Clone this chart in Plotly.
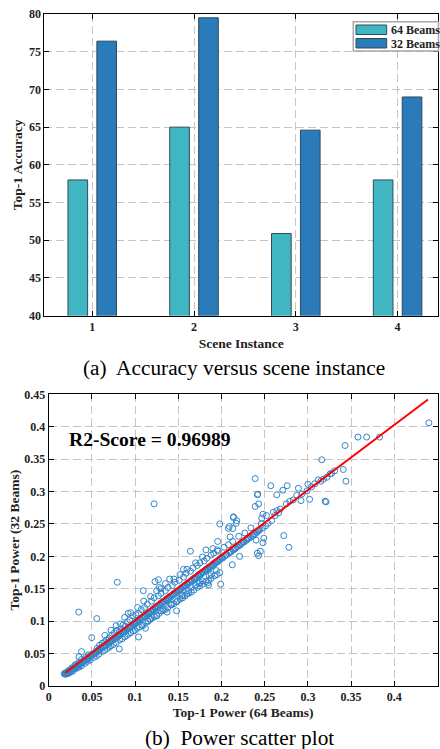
import plotly.graph_objects as go

# ---------------- data: (a) accuracy per scene ----------------
scenes = [1, 2, 3, 4]
acc_64 = [58.0, 65.0, 50.9, 58.0]
acc_32 = [76.4, 79.5, 64.6, 69.0]
series_names = ["64 Beams", "32 Beams"]

# ---------------- data: (b) power scatter ----------------
band1_x = [0.018, 0.019, 0.019, 0.020, 0.021, 0.021, 0.022, 0.023, 0.024, 0.024,
           0.025, 0.026, 0.027, 0.027, 0.028, 0.029, 0.030, 0.031, 0.031, 0.032,
           0.033, 0.034, 0.035, 0.035, 0.036, 0.037, 0.038, 0.039, 0.040, 0.041,
           0.042, 0.043, 0.044, 0.045, 0.046, 0.047, 0.048, 0.050, 0.052, 0.054]
band1_y = [0.019, 0.018, 0.020, 0.019, 0.021, 0.020, 0.021, 0.024, 0.022, 0.023,
           0.024, 0.026, 0.025, 0.028, 0.026, 0.027, 0.031, 0.029, 0.033, 0.030,
           0.031, 0.033, 0.032, 0.036, 0.034, 0.035, 0.041, 0.036, 0.038, 0.039,
           0.040, 0.044, 0.041, 0.042, 0.048, 0.044, 0.046, 0.049, 0.050, 0.052]
band2_x = [0.055, 0.056, 0.057, 0.058, 0.059, 0.060, 0.061, 0.062, 0.063, 0.064,
           0.065, 0.066, 0.067, 0.068, 0.069, 0.070, 0.071, 0.072, 0.073, 0.074,
           0.075, 0.076, 0.077, 0.078, 0.079, 0.080, 0.081, 0.082, 0.083, 0.084,
           0.085, 0.086, 0.087, 0.088, 0.089, 0.090, 0.091, 0.092, 0.093, 0.094,
           0.095, 0.096, 0.097, 0.098, 0.099]
band2_y = [0.053, 0.058, 0.055, 0.056, 0.063, 0.058, 0.059, 0.066, 0.061, 0.062,
           0.068, 0.063, 0.071, 0.066, 0.067, 0.074, 0.068, 0.070, 0.078, 0.071,
           0.073, 0.082, 0.074, 0.076, 0.086, 0.078, 0.079, 0.084, 0.080, 0.088,
           0.082, 0.094, 0.084, 0.086, 0.092, 0.087, 0.099, 0.089, 0.090, 0.102,
           0.092, 0.093, 0.108, 0.095, 0.096]
band3_x = [0.100, 0.101, 0.102, 0.103, 0.104, 0.105, 0.106, 0.107, 0.108, 0.109,
           0.110, 0.111, 0.112, 0.113, 0.114, 0.115, 0.116, 0.117, 0.118, 0.119,
           0.120, 0.121, 0.122, 0.123, 0.124, 0.125, 0.126, 0.127, 0.128, 0.129,
           0.130, 0.131, 0.132, 0.133, 0.134, 0.135, 0.136, 0.137, 0.138, 0.139,
           0.140, 0.141, 0.142, 0.143, 0.144, 0.145, 0.146, 0.147, 0.148, 0.149]
band3_y = [0.097, 0.110, 0.099, 0.101, 0.112, 0.102, 0.104, 0.118, 0.105, 0.093,
           0.107, 0.121, 0.109, 0.111, 0.126, 0.112, 0.114, 0.103, 0.115, 0.131,
           0.117, 0.119, 0.136, 0.120, 0.122, 0.108, 0.124, 0.139, 0.125, 0.127,
           0.143, 0.128, 0.130, 0.118, 0.131, 0.147, 0.133, 0.135, 0.152, 0.136,
           0.138, 0.126, 0.139, 0.155, 0.141, 0.143, 0.160, 0.144, 0.146, 0.131]
band4_x = [0.150, 0.151, 0.152, 0.153, 0.154, 0.155, 0.156, 0.157, 0.158, 0.159,
           0.160, 0.161, 0.162, 0.163, 0.164, 0.165, 0.166, 0.167, 0.168, 0.169,
           0.170, 0.171, 0.172, 0.173, 0.174, 0.175, 0.176, 0.177, 0.178, 0.179,
           0.180, 0.181, 0.182, 0.183, 0.184, 0.185, 0.186, 0.187, 0.188, 0.189,
           0.190, 0.191, 0.192, 0.193, 0.194, 0.195, 0.196, 0.197, 0.198, 0.200]
band4_y = [0.147, 0.163, 0.149, 0.151, 0.139, 0.152, 0.168, 0.154, 0.156, 0.174,
           0.157, 0.159, 0.147, 0.160, 0.177, 0.162, 0.164, 0.182, 0.165, 0.167,
           0.155, 0.168, 0.186, 0.170, 0.172, 0.190, 0.173, 0.175, 0.162, 0.176,
           0.193, 0.178, 0.180, 0.197, 0.181, 0.183, 0.170, 0.184, 0.202, 0.186,
           0.188, 0.205, 0.189, 0.191, 0.178, 0.192, 0.208, 0.194, 0.196, 0.198]
band5_x = [0.201, 0.203, 0.205, 0.206, 0.208, 0.210, 0.211, 0.213, 0.215, 0.216,
           0.218, 0.220, 0.222, 0.223, 0.225, 0.227, 0.229, 0.230, 0.232, 0.234,
           0.236, 0.238, 0.240, 0.242, 0.244, 0.246, 0.248, 0.251, 0.254, 0.258]
band5_y = [0.199, 0.214, 0.202, 0.203, 0.218, 0.207, 0.208, 0.223, 0.211, 0.213,
           0.215, 0.231, 0.218, 0.220, 0.222, 0.236, 0.225, 0.227, 0.228, 0.244,
           0.232, 0.234, 0.237, 0.239, 0.241, 0.250, 0.244, 0.247, 0.251, 0.255]
core_x = [0.021, 0.0235, 0.026, 0.0285, 0.031, 0.0335, 0.036, 0.0385, 0.041, 0.0435,
          0.046, 0.0485, 0.051, 0.0535, 0.056, 0.0585, 0.061, 0.0635, 0.066, 0.0685,
          0.071, 0.0735, 0.076, 0.0785, 0.081, 0.0835, 0.086, 0.0885, 0.091, 0.0935,
          0.096, 0.0985, 0.101, 0.1035, 0.106, 0.1085, 0.111, 0.1135, 0.116, 0.1185,
          0.121, 0.1235, 0.126, 0.1285, 0.131, 0.1335, 0.136, 0.1385, 0.141, 0.1435,
          0.146, 0.1485, 0.151, 0.1535, 0.156, 0.1585, 0.161, 0.1635, 0.166, 0.1685,
          0.171, 0.1735, 0.176, 0.1785, 0.181, 0.1835, 0.186, 0.1885, 0.191, 0.1935,
          0.196, 0.1985, 0.201, 0.2035, 0.206, 0.2085, 0.211, 0.2135, 0.216, 0.2185,
          0.221, 0.2235, 0.226, 0.2285, 0.231, 0.2335, 0.236, 0.2385, 0.241, 0.2435]
core_y = [0.019, 0.021, 0.025, 0.026, 0.028, 0.032, 0.033, 0.036, 0.038, 0.041,
          0.043, 0.047, 0.048, 0.050, 0.054, 0.055, 0.058, 0.061, 0.062, 0.066,
          0.068, 0.070, 0.073, 0.076, 0.077, 0.080, 0.083, 0.085, 0.087, 0.091,
          0.092, 0.095, 0.098, 0.100, 0.102, 0.106, 0.107, 0.110, 0.113, 0.115,
          0.117, 0.121, 0.122, 0.125, 0.128, 0.130, 0.132, 0.135, 0.137, 0.140,
          0.142, 0.146, 0.147, 0.150, 0.153, 0.155, 0.157, 0.160, 0.162, 0.165,
          0.167, 0.171, 0.172, 0.175, 0.178, 0.180, 0.182, 0.185, 0.187, 0.190,
          0.192, 0.196, 0.197, 0.200, 0.203, 0.205, 0.207, 0.210, 0.212, 0.215,
          0.217, 0.221, 0.222, 0.225, 0.228, 0.230, 0.232, 0.235, 0.237, 0.240]
lower_x = [0.022, 0.025, 0.028, 0.032, 0.035, 0.038, 0.042, 0.045, 0.048, 0.052,
           0.055, 0.058, 0.062, 0.065, 0.068, 0.072, 0.075, 0.078, 0.082, 0.085,
           0.088, 0.092, 0.095, 0.098, 0.102, 0.105, 0.108, 0.112, 0.115, 0.118,
           0.122, 0.125, 0.128, 0.132, 0.135, 0.138, 0.142, 0.145, 0.148, 0.152,
           0.155, 0.158, 0.162, 0.165, 0.168, 0.172, 0.175, 0.178, 0.182, 0.185,
           0.188, 0.192, 0.195, 0.198]
lower_y = [0.019, 0.021, 0.023, 0.027, 0.029, 0.031, 0.035, 0.038, 0.040, 0.044,
           0.046, 0.049, 0.053, 0.055, 0.058, 0.062, 0.064, 0.067, 0.071, 0.073,
           0.076, 0.080, 0.082, 0.085, 0.089, 0.091, 0.094, 0.098, 0.100, 0.103,
           0.107, 0.109, 0.112, 0.116, 0.118, 0.121, 0.125, 0.127, 0.130, 0.134,
           0.136, 0.139, 0.143, 0.145, 0.148, 0.152, 0.154, 0.157, 0.161, 0.163,
           0.166, 0.170, 0.172, 0.175]
upper_x = [0.268, 0.275, 0.279, 0.283, 0.287, 0.293, 0.299, 0.304, 0.308, 0.312,
           0.315, 0.318, 0.322, 0.3256, 0.3275, 0.331, 0.248, 0.252, 0.2465, 0.260,
           0.264, 0.262, 0.266, 0.2137, 0.2176, 0.320]
upper_y = [0.273, 0.281, 0.285, 0.287, 0.294, 0.296, 0.301, 0.307, 0.312, 0.318,
           0.316, 0.319, 0.322, 0.327, 0.328, 0.332, 0.265, 0.263, 0.259, 0.268,
           0.2705, 0.263, 0.267, 0.260, 0.255, 0.285]
spread_x = [0.065, 0.072, 0.078, 0.088, 0.095, 0.103, 0.118, 0.125, 0.130, 0.135,
            0.145, 0.152, 0.160, 0.170, 0.178, 0.190, 0.083, 0.092, 0.110, 0.128,
            0.070, 0.090, 0.100, 0.120, 0.130, 0.142, 0.155, 0.165, 0.175, 0.188,
            0.160, 0.115, 0.035, 0.038]
spread_y = [0.078, 0.086, 0.093, 0.106, 0.113, 0.121, 0.138, 0.147, 0.150, 0.158,
            0.165, 0.172, 0.180, 0.190, 0.199, 0.212, 0.096, 0.112, 0.131, 0.152,
            0.060, 0.078, 0.086, 0.105, 0.116, 0.126, 0.140, 0.152, 0.160, 0.172,
            0.142, 0.100, 0.045, 0.053]
outlier_x = [0.440, 0.358, 0.368, 0.383, 0.343, 0.316, 0.341, 0.344, 0.321, 0.302,
             0.292, 0.289, 0.300, 0.276, 0.271, 0.264, 0.239, 0.257, 0.242, 0.239,
             0.243, 0.272, 0.278, 0.249, 0.248, 0.245, 0.243, 0.122, 0.214, 0.198,
             0.209, 0.213, 0.217, 0.2125, 0.199, 0.0794, 0.0347, 0.0556, 0.0498, 0.0817,
             0.104, 0.112, 0.148, 0.137, 0.184, 0.164, 0.182, 0.156, 0.140, 0.127,
             0.123, 0.1095, 0.185, 0.174, 0.221, 0.2415, 0.240, 0.1955, 0.195, 0.210,
             0.208, 0.2415]
outlier_y = [0.406, 0.384, 0.384, 0.384, 0.371, 0.349, 0.334, 0.316, 0.284, 0.288,
             0.286, 0.305, 0.311, 0.309, 0.302, 0.295, 0.320, 0.309, 0.296, 0.277,
             0.281, 0.232, 0.214, 0.228, 0.221, 0.208, 0.201, 0.281, 0.261, 0.250,
             0.246, 0.243, 0.251, 0.187, 0.157, 0.160, 0.114, 0.104, 0.0746, 0.0571,
             0.0756, 0.089, 0.116, 0.114, 0.159, 0.208, 0.210, 0.180, 0.165, 0.164,
             0.161, 0.147, 0.156, 0.158, 0.200, 0.205, 0.225, 0.223, 0.210, 0.230,
             0.243, 0.295]

power_64 = (band1_x + band2_x + band3_x + band4_x + band5_x + core_x + lower_x
            + upper_x + spread_x + outlier_x)
power_32 = (band1_y + band2_y + band3_y + band4_y + band5_y + core_y + lower_y
            + upper_y + spread_y + outlier_y)

fit_slope = 1.0045
fit_intercept = 0.001
fit_x = [0.019, 0.439]
r2_score = 0.96989

# ---------------- styling ----------------
W, H = 440, 749
SERIF = "Liberation Serif, Times New Roman, serif"
bar_colors = ["#3FB6C2", "#2B7BBA"]
bar_edge = "#2E4A5A"
grid_col = "#C4C4C4"


def pxx(x):
    return x / W


def pyy(y):
    return 1 - y / H


fig = go.Figure()

fig.add_trace(go.Bar(x=scenes, y=acc_64, name=series_names[0], width=0.193, offset=-0.2385,
                     marker=dict(color=bar_colors[0], line=dict(color=bar_edge, width=1)),
                     xaxis="x", yaxis="y", showlegend=False))
fig.add_trace(go.Bar(x=scenes, y=acc_32, name=series_names[1], width=0.193, offset=0.0455,
                     marker=dict(color=bar_colors[1], line=dict(color=bar_edge, width=1)),
                     xaxis="x", yaxis="y", showlegend=False))

fig.add_trace(go.Scatter(x=power_64, y=power_32, mode="markers",
                         marker=dict(symbol="circle-open", size=6, color="#3385C8",
                                     line=dict(width=1)),
                         xaxis="x2", yaxis="y2", showlegend=False))
fit_y = [fit_slope * v + fit_intercept for v in fit_x]
fig.add_trace(go.Scatter(x=fit_x, y=fit_y, mode="lines", line=dict(color="#FF0000", width=2),
                         xaxis="x2", yaxis="y2", showlegend=False))

tickfont = dict(family=SERIF, size=12, color="#222222", weight="bold")
titlefont = dict(family=SERIF, size=13.5, color="#222222", weight="bold")
common = dict(showline=True, linecolor="black", linewidth=1, mirror="ticks",
              ticks="inside", ticklen=5, tickcolor="black", showgrid=True,
              gridcolor=grid_col, griddash="8px,4px", gridwidth=1, zeroline=False,
              tickfont=tickfont, automargin=False)

fig.update_layout(
    width=W, height=H, margin=dict(l=0, r=0, t=0, b=0),
    plot_bgcolor="white", paper_bgcolor="white", barmode="overlay",
    xaxis=dict(domain=[pxx(44.3), pxx(438.3)], range=[0.529, 4.4], tickvals=scenes,
               title=dict(text="Scene Instance", font=titlefont, standoff=5), anchor="y", **common),
    yaxis=dict(domain=[pyy(315.7), pyy(14)], range=[40, 80], dtick=5,
               title=dict(text="Top-1 Accuracy", font=titlefont, standoff=3), anchor="x", **common),
    xaxis2=dict(domain=[pxx(48.7), pxx(437.5)], range=[0, 0.45], dtick=0.05,
                title=dict(text="Top-1 Power (64 Beams)", font=titlefont, standoff=4), anchor="y2", **common),
    yaxis2=dict(domain=[pyy(686), pyy(394.3)], range=[0, 0.45], dtick=0.05,
                title=dict(text="Top-1 Power (32 Beams)", font=titlefont, standoff=1), anchor="x2", **common),
)

# R2 annotation
fig.add_annotation(x=0.0208, y=0.38, xref="x2", yref="y2", xanchor="left", yanchor="middle",
                   text=f"R2-Score = {r2_score}", showarrow=False,
                   font=dict(family=SERIF, size=19.6, color="black", weight="bold"))

# captions
fig.add_annotation(x=pxx(234), y=pyy(367.5), xref="paper", yref="paper", xanchor="center", yanchor="middle",
                   text="(a)\u00a0 Accuracy versus scene instance", showarrow=False,
                   font=dict(family=SERIF, size=21.3, color="black"))
fig.add_annotation(x=pxx(239), y=pyy(738), xref="paper", yref="paper", xanchor="center", yanchor="middle",
                   text="(b)\u00a0 Power scatter plot", showarrow=False,
                   font=dict(family=SERIF, size=21.3, color="black"))

# manual legend for the bar chart
fig.add_shape(type="rect", xref="paper", yref="paper", x0=pxx(353.3), x1=pxx(438.5), y0=pyy(51), y1=pyy(21.7),
              line=dict(color="#A8A8A8", width=1.5), fillcolor="white", layer="above")
for i, (nm, col) in enumerate(zip(series_names, bar_colors)):
    top = 25 + i * 13.5
    fig.add_shape(type="rect", xref="paper", yref="paper", x0=pxx(356), x1=pxx(386.7),
                  y0=pyy(top + 9.5), y1=pyy(top), line=dict(color=bar_edge, width=1),
                  fillcolor=col, layer="above")
    fig.add_annotation(x=pxx(389), y=pyy(top + 5), xref="paper", yref="paper", xanchor="left",
                       yanchor="middle", text=nm, showarrow=False,
                       font=dict(family=SERIF, size=12, color="#222222", weight="bold"))

fig.write_html("out.html", config={"displayModeBar": False},
               post_script="document.body.style.margin='0';document.body.style.overflow='hidden';")
